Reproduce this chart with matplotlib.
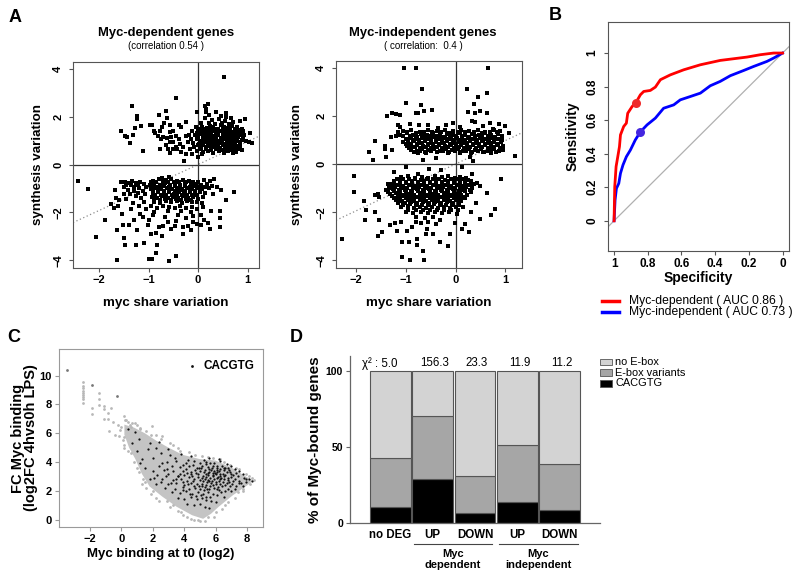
import numpy as np
import matplotlib
matplotlib.use('Agg')
import matplotlib.pyplot as plt
from matplotlib.lines import Line2D
from matplotlib.patches import Rectangle

plt.rcParams['font.family'] = ['Liberation Sans', 'DejaVu Sans']

# ---------------- DATA ----------------
# Panel A (left): Myc-dependent genes (myc share variation, synthesis variation)
dep_points = [
    (0.52, 3.67), (-0.45, 2.76), (-1.33, 2.46), (-0.64, 2.25), (-1.23, 2.04), (-1.23, 1.90), (-0.79, 2.07),
    (-0.62, 1.93), (-0.94, 1.65), (-0.98, 1.65), (-1.16, 1.60), (-1.27, 1.51), (-1.55, 1.38), (-1.48, 1.21),
    (-1.43, 1.13), (-1.31, 1.24), (-1.37, 0.89), (-1.12, 0.58), (-0.86, 1.32), (-0.76, 1.38), (-0.72, 1.56),
    (-0.69, 1.74), (-0.57, 1.65), (-0.38, 1.65), (-0.34, 1.56), (-0.25, 1.79), (-0.57, 1.35), (-0.51, 1.42),
    (-0.65, 0.82), (-0.61, 0.63), (-0.57, 0.93), (-0.28, 0.13), (-0.03, 2.21), (0.13, 2.46), (0.20, 2.53),
    (0.17, 2.32), (0.22, 2.07), (0.15, 2.18), (0.37, 2.21), (0.47, 2.01), (0.57, 2.15), (0.56, 1.97),
    (0.66, 1.93), (0.94, 1.88), (0.84, 1.83), (1.04, 1.32), (1.03, 0.93), (1.08, 0.90), (0.84, 0.72),
    (0.77, 0.51), (0.71, 0.63),
    (-0.45, 1.18), (-0.38, 1.07), (-0.37, 0.86), (-0.30, 0.72), (-0.34, 0.54), (-0.51, 0.93), (-0.44, 0.72),
    (-0.54, 1.14), (-0.62, 1.10), (-0.24, 1.21), (-0.20, 0.93), (-0.17, 0.63), (-0.13, 0.44), (-0.25, 0.44),
    (-0.42, 0.63), (-0.50, 0.63), (-0.57, 0.49), (-0.74, 1.07), (-0.71, 1.14), (-0.81, 1.21), (-0.88, 1.42),
    (-0.76, 0.65),
    (0.05, 1.72), (0.22, 1.75), (0.35, 1.68), (0.48, 1.74), (0.62, 1.70), (0.70, 1.78), (0.28, 1.85),
    (0.42, 1.90), (0.14, 1.95), (0.55, 1.82),
    (-0.05, 1.55), (0.08, 1.58), (0.18, 1.52), (0.31, 1.56), (0.40, 1.50), (0.52, 1.58), (0.60, 1.53),
    (0.68, 1.60), (0.78, 1.55), (0.88, 1.50), (0.25, 1.62), (0.46, 1.64),
    (-0.12, 1.42), (0.00, 1.38), (0.10, 1.44), (0.21, 1.36), (0.30, 1.42), (0.37, 1.35), (0.45, 1.41),
    (0.55, 1.38), (0.63, 1.44), (0.72, 1.36), (0.80, 1.42), (0.90, 1.38), (0.15, 1.30), (0.58, 1.30),
    (-0.18, 1.25), (-0.06, 1.22), (0.05, 1.27), (0.13, 1.20), (0.24, 1.26), (0.33, 1.19), (0.41, 1.24),
    (0.50, 1.18), (0.58, 1.25), (0.67, 1.20), (0.75, 1.27), (0.83, 1.22), (0.93, 1.25), (0.28, 1.12),
    (0.46, 1.10),
    (-0.15, 1.05), (-0.02, 1.08), (0.09, 1.02), (0.18, 1.06), (0.27, 0.99), (0.36, 1.04), (0.44, 0.98),
    (0.53, 1.05), (0.62, 0.99), (0.70, 1.06), (0.79, 1.00), (0.88, 1.04), (0.96, 0.98),
    (-0.10, 0.90), (0.02, 0.86), (0.12, 0.92), (0.22, 0.85), (0.32, 0.90), (0.40, 0.84), (0.49, 0.91),
    (0.57, 0.86), (0.66, 0.92), (0.74, 0.85), (0.85, 0.88),
    (-0.08, 0.74), (0.05, 0.70), (0.16, 0.75), (0.26, 0.69), (0.35, 0.73), (0.45, 0.67), (0.54, 0.74),
    (0.63, 0.70), (0.72, 0.75), (0.80, 0.66),
    (-0.02, 0.55), (0.10, 0.52), (0.21, 0.58), (0.31, 0.50), (0.42, 0.56), (0.52, 0.48), (0.61, 0.57),
    (0.70, 0.50), (0.88, 0.62), (0.00, 0.30), (0.08, 0.42),
    (0.02, 1.48), (0.14, 1.50), (0.26, 1.47), (0.35, 1.49), (0.50, 1.47), (0.65, 1.50), (0.74, 1.47),
    (0.85, 1.46), (-0.02, 1.32), (0.08, 1.34), (0.26, 1.33), (0.40, 1.31), (0.50, 1.34), (0.66, 1.32),
    (0.76, 1.34), (0.86, 1.31), (0.00, 1.15), (0.10, 1.13), (0.20, 1.16), (0.37, 1.13), (0.55, 1.12),
    (0.63, 1.16), (0.72, 1.13), (0.80, 1.16), (0.90, 1.13), (0.04, 0.97), (0.14, 0.96), (0.23, 0.97),
    (0.32, 0.96), (0.49, 0.97), (0.58, 0.95), (0.75, 0.96), (0.84, 0.96), (0.00, 0.80), (0.10, 0.81),
    (0.20, 0.79), (0.30, 0.81), (0.40, 0.78), (0.50, 0.80), (0.60, 0.79), (0.68, 0.81), (0.78, 0.78),
    (0.04, 0.63), (0.15, 0.64), (0.27, 0.62), (0.37, 0.63), (0.48, 0.61), (0.57, 0.64), (0.66, 0.62),
    (0.76, 0.60),
    # lower cluster
    (-2.42, -0.69), (-2.23, -1.03), (-1.87, -2.32), (-2.07, -3.04), (-1.64, -4.0), (-1.68, -1.06),
    (-1.64, -2.75), (-1.50, -3.07), (-1.47, -3.38), (-1.53, -2.06), (-1.70, -1.80), (-1.62, -1.74),
    (-1.60, -1.50), (-1.52, -2.51), (-1.39, -2.54), (-1.23, -2.75), (-1.26, -3.38), (-1.09, -3.26),
    (-0.99, -3.96), (-0.94, -3.96), (-0.84, -3.69), (-0.83, -3.38), (-0.73, -2.99), (-0.59, -4.03),
    (-0.45, -3.83), (0.20, -2.43), (0.25, -2.68), (0.44, -2.61), (0.44, -2.24), (0.44, -1.96),
    (0.27, -1.96), (0.57, -1.50), (0.73, -1.13),
    (-0.96, -2.88), (-1.01, -2.51), (-1.00, -2.30), (-0.92, -2.10), (-0.79, -2.60), (-0.71, -2.55),
    (-0.61, -2.41), (-0.47, -2.55), (-0.44, -2.35), (-0.31, -2.60), (-0.31, -2.88), (-0.20, -2.55),
    (-0.11, -2.40), (-0.03, -2.50), (0.05, -2.52), (-0.15, -2.75), (-0.85, -2.85), (-1.12, -2.20),
    (-0.55, -2.70), (-0.67, -2.20), (-0.40, -2.10), (-0.25, -2.25), (-0.10, -2.15), (0.05, -2.10),
    (0.12, -2.30), (-1.30, -2.30), (-1.18, -2.05), (-0.88, -2.00),
    (-1.55, -0.75), (-1.47, -0.72), (-1.40, -0.78), (-1.33, -0.70), (-1.25, -0.76), (-1.18, -0.72),
    (-1.10, -0.80), (-1.50, -0.95), (-1.42, -1.05), (-1.30, -0.92), (-1.20, -1.00), (-1.12, -1.10),
    (-1.05, -0.95), (-1.38, -1.25), (-1.25, -1.30), (-1.15, -1.40), (-1.08, -1.25), (-1.45, -1.45),
    (-1.32, -1.60), (-1.20, -1.75), (-1.10, -1.55), (-1.05, -1.85), (-1.35, -1.85), (-1.50, -1.25),
    (-1.75, -1.65), (-1.65, -1.40),
    (-0.92, -0.68), (-0.78, -0.62), (-0.65, -0.66), (-0.55, -0.60), (-0.42, -0.67), (-0.30, -0.63),
    (-0.18, -0.70), (-0.58, -0.52), (-0.72, -0.55), (0.12, -0.65), (0.25, -0.70), (0.32, -0.62),
    (-0.98, -0.85), (-0.88, -0.80), (-0.76, -0.86), (-0.66, -0.79), (-0.56, -0.84), (-0.46, -0.78),
    (-0.36, -0.85), (-0.26, -0.80), (-0.15, -0.86), (-0.05, -0.80), (0.05, -0.85), (0.18, -0.82),
    (0.28, -0.88),
    (-0.95, -1.02), (-0.85, -0.97), (-0.74, -1.03), (-0.63, -0.98), (-0.52, -1.04), (-0.42, -0.97),
    (-0.32, -1.03), (-0.22, -0.98), (-0.12, -1.04), (-0.02, -0.97), (0.08, -1.02), (0.22, -1.00),
    (0.38, -0.95), (0.47, -1.05),
    (-0.90, -1.18), (-0.80, -1.14), (-0.69, -1.20), (-0.58, -1.15), (-0.48, -1.21), (-0.38, -1.14),
    (-0.28, -1.20), (-0.17, -1.15), (-0.07, -1.22), (0.03, -1.16), (0.14, -1.20), (0.30, -1.25),
    (-0.93, -1.35), (-0.82, -1.40), (-0.72, -1.33), (-0.61, -1.38), (-0.50, -1.34), (-0.40, -1.40),
    (-0.30, -1.32), (-0.20, -1.38), (-0.10, -1.34), (0.00, -1.42), (0.10, -1.36),
    (-0.88, -1.55), (-0.76, -1.60), (-0.65, -1.52), (-0.54, -1.58), (-0.43, -1.54), (-0.33, -1.60),
    (-0.23, -1.52), (-0.12, -1.58), (-0.02, -1.55), (0.07, -1.62),
    (-0.95, -1.75), (-0.82, -1.80), (-0.70, -1.72), (-0.58, -1.78), (-0.47, -1.82), (-0.36, -1.74),
    (-0.24, -1.80), (-0.13, -1.76), (-0.03, -1.85), (0.10, -1.78), (-0.60, -1.95), (-0.35, -1.95),
    (-0.15, -1.98),
    (-0.95, -0.74), (-0.84, -0.73), (-0.70, -0.75), (-0.60, -0.72), (-0.48, -0.74), (-0.38, -0.73),
    (-0.24, -0.75), (-0.10, -0.73), (0.00, -0.72), (-1.45, -0.84), (-1.36, -0.86), (-1.22, -0.86),
    (-0.90, -0.92), (-0.80, -0.93), (-0.68, -0.91), (-0.58, -0.93), (-0.47, -0.91), (-0.37, -0.92),
    (-0.27, -0.90), (-0.17, -0.93), (-0.07, -0.91), (0.03, -0.93), (0.14, -0.92),
    (-0.92, -1.10), (-0.80, -1.08), (-0.69, -1.11), (-0.58, -1.09), (-0.47, -1.11), (-0.37, -1.08),
    (-0.27, -1.11), (-0.17, -1.08), (-0.07, -1.10), (0.04, -1.08), (-1.30, -1.10), (-1.22, -1.17),
    (-0.86, -1.27), (-0.75, -1.26), (-0.64, -1.28), (-0.53, -1.27), (-0.43, -1.28), (-0.33, -1.26),
    (-0.23, -1.28), (-0.13, -1.26), (-0.03, -1.29),
    (-0.88, -1.46), (-0.77, -1.47), (-0.66, -1.45), (-0.55, -1.47), (-0.45, -1.46), (-0.35, -1.48),
    (-0.25, -1.45), (-0.15, -1.47),
]

# Panel A (right): Myc-independent genes
indep_points = [
    (-1.03, 4.0), (-0.80, 4.0), (0.66, 4.0), (-0.68, 3.10), (0.23, 3.12), (0.63, 2.96), (0.46, 2.78),
    (0.37, 2.50), (-1.00, 2.53), (-0.70, 2.46), (-0.80, 2.11), (-0.76, 2.10), (-0.63, 2.22), (-0.48, 2.25),
    (-1.38, 2.00), (-1.29, 2.11), (-1.21, 2.06), (-1.11, 2.04), (0.25, 2.18), (0.40, 2.11), (0.49, 2.19),
    (0.64, 2.11), (-0.91, 1.67), (-0.74, 1.64), (-0.56, 1.63), (-1.17, 1.62), (-1.11, 1.53), (-1.15, 1.32),
    (-1.30, 1.14), (-1.21, 1.18), (-1.62, 0.97), (-1.42, 0.76), (-1.42, 0.63), (-1.75, 0.51), (-1.66, 0.18),
    (-1.40, 0.30), (-1.29, 0.58), (-0.65, 0.18), (-0.40, 0.25), (0.34, 1.78), (0.40, 1.74), (0.69, 1.71),
    (0.88, 1.67), (1.00, 1.60), (1.08, 1.28), (1.19, 0.32), (0.95, 0.75), (0.91, 1.05), (0.95, 0.58),
    (0.36, 0.11), (0.30, 0.30), (-0.20, 1.62), (-0.05, 1.72), (0.10, 1.55), (0.55, 1.60), (0.75, 1.45),
    (-0.35, 1.50),
    (-1.05, 1.38), (-0.90, 1.42), (-0.72, 1.35), (-0.55, 1.40), (-0.38, 1.36), (-0.22, 1.42), (-0.05, 1.38),
    (0.12, 1.43), (0.28, 1.36), (0.45, 1.41), (0.60, 1.35), (0.78, 1.42), (0.90, 1.37),
    (-1.12, 1.22), (-0.98, 1.27), (-0.85, 1.20), (-0.70, 1.25), (-0.58, 1.21), (-0.45, 1.27), (-0.32, 1.20),
    (-0.18, 1.26), (-0.05, 1.21), (0.08, 1.27), (0.20, 1.22), (0.33, 1.26), (0.47, 1.20), (0.60, 1.27),
    (0.72, 1.21), (0.85, 1.25),
    (-1.00, 1.06), (-0.90, 1.10), (-0.80, 1.04), (-0.68, 1.09), (-0.56, 1.05), (-0.45, 1.11), (-0.34, 1.04),
    (-0.22, 1.09), (-0.10, 1.05), (0.02, 1.10), (0.14, 1.04), (0.26, 1.09), (0.38, 1.05), (0.50, 1.10),
    (0.62, 1.04), (0.74, 1.09), (0.88, 1.05),
    (-1.05, 0.92), (-0.95, 0.88), (-0.84, 0.94), (-0.73, 0.89), (-0.62, 0.95), (-0.50, 0.88), (-0.40, 0.93),
    (-0.28, 0.89), (-0.17, 0.95), (-0.05, 0.88), (0.06, 0.93), (0.18, 0.88), (0.30, 0.94), (0.42, 0.89),
    (0.54, 0.95), (0.66, 0.88), (0.78, 0.93), (0.92, 0.90),
    (-0.98, 0.76), (-0.88, 0.72), (-0.77, 0.78), (-0.66, 0.73), (-0.55, 0.78), (-0.44, 0.72), (-0.33, 0.77),
    (-0.22, 0.73), (-0.10, 0.79), (0.01, 0.72), (0.12, 0.77), (0.24, 0.72), (0.36, 0.78), (0.48, 0.73),
    (0.60, 0.77), (0.72, 0.72), (0.84, 0.78),
    (-0.90, 0.60), (-0.78, 0.56), (-0.67, 0.62), (-0.55, 0.57), (-0.43, 0.61), (-0.32, 0.55), (-0.20, 0.62),
    (-0.08, 0.58), (0.05, 0.61), (0.16, 0.55), (0.28, 0.62), (0.40, 0.57), (0.52, 0.61), (0.65, 0.56),
    (0.78, 0.62), (0.88, 0.55),
    (-0.75, 0.47), (-0.60, 0.45), (-0.38, 0.48), (-0.15, 0.44), (0.10, 0.46), (0.32, 0.45), (0.55, 0.48),
    (0.72, 0.44),
    (-0.98, 1.33), (-0.80, 1.30), (-0.63, 1.34), (-0.47, 1.31), (-0.30, 1.33), (-0.13, 1.30), (0.04, 1.34),
    (0.20, 1.31), (0.37, 1.33), (0.53, 1.30), (0.69, 1.34), (0.84, 1.31),
    (-1.06, 1.15), (-0.92, 1.17), (-0.77, 1.14), (-0.63, 1.18), (-0.51, 1.15), (-0.38, 1.17), (-0.25, 1.14),
    (-0.12, 1.18), (0.01, 1.15), (0.14, 1.17), (0.27, 1.14), (0.40, 1.18), (0.54, 1.15), (0.66, 1.17),
    (0.79, 1.14), (0.93, 1.16),
    (-0.95, 0.99), (-0.85, 1.01), (-0.74, 0.98), (-0.62, 1.02), (-0.50, 0.99), (-0.39, 1.01), (-0.28, 0.98),
    (-0.16, 1.02), (-0.04, 0.99), (0.08, 1.01), (0.20, 0.98), (0.32, 1.02), (0.44, 0.99), (0.56, 1.01),
    (0.68, 0.98), (0.80, 1.02), (0.94, 0.99),
    (-1.00, 0.83), (-0.89, 0.85), (-0.78, 0.82), (-0.67, 0.86), (-0.56, 0.83), (-0.45, 0.85), (-0.34, 0.82),
    (-0.23, 0.86), (-0.11, 0.83), (0.00, 0.85), (0.12, 0.82), (0.24, 0.86), (0.36, 0.83), (0.48, 0.85),
    (0.60, 0.82), (0.72, 0.86), (0.85, 0.83),
    (-0.93, 0.67), (-0.82, 0.69), (-0.71, 0.66), (-0.60, 0.70), (-0.49, 0.67), (-0.38, 0.69), (-0.27, 0.66),
    (-0.16, 0.70), (-0.04, 0.67), (0.07, 0.69), (0.18, 0.66), (0.30, 0.70), (0.42, 0.67), (0.54, 0.69),
    (0.66, 0.66), (0.78, 0.70), (0.90, 0.67),
    (-0.84, 0.52), (-0.72, 0.54), (-0.61, 0.51), (-0.49, 0.53), (-0.37, 0.52), (-0.26, 0.54), (-0.14, 0.51),
    (-0.02, 0.53), (0.10, 0.52), (0.22, 0.54), (0.34, 0.51), (0.46, 0.53), (0.58, 0.52), (0.70, 0.54),
    (0.82, 0.51),
    # lower cluster
    (-2.04, -0.51), (-2.04, -1.15), (-1.85, -1.53), (-1.80, -1.90), (-1.82, -2.32), (-2.29, -3.10),
    (-1.56, -3.01), (-1.49, -2.82), (-1.55, -2.32), (-1.62, -2.01), (-1.62, -1.28), (-1.56, -1.24),
    (-1.54, -1.35), (-1.25, -0.35), (-1.33, -0.81), (-1.35, -1.00), (-0.99, -0.11), (-0.53, -0.21),
    (-0.30, -0.24), (0.13, -0.11), (0.34, -0.42), (0.91, -0.63), (0.64, -1.22), (0.49, -0.90),
    (0.49, -2.29), (0.79, -1.85), (0.71, -2.11), (0.41, -1.63), (0.31, -1.98), (0.20, -2.48),
    (0.28, -2.81), (0.14, -2.71), (-0.01, -2.43), (-0.11, -2.92), (-0.16, -3.40), (-0.31, -3.26),
    (-0.40, -2.50), (-0.57, -2.71), (-0.60, -2.92), (-0.46, -2.92), (-0.31, -2.33), (-0.66, -3.61),
    (-0.63, -4.0), (-0.92, -4.0), (-1.07, -3.86), (-1.07, -3.26), (-0.93, -3.26), (-0.78, -3.13),
    (-0.78, -3.36), (-1.19, -2.80), (-1.33, -2.54), (-1.23, -2.47), (-1.10, -2.42), (-0.97, -2.80),
    (-0.88, -2.61), (-0.80, -2.40),
    (-1.10, -0.55), (-0.95, -0.50), (-0.82, -0.58), (-0.68, -0.52), (-0.55, -0.57), (-0.42, -0.50),
    (-0.28, -0.56), (-0.15, -0.51), (-0.02, -0.57), (0.10, -0.52), (0.22, -0.60), (-0.75, -0.42),
    (-1.25, -0.72), (-1.12, -0.68), (-1.00, -0.74), (-0.88, -0.70), (-0.76, -0.75), (-0.64, -0.69),
    (-0.52, -0.74), (-0.40, -0.68), (-0.28, -0.74), (-0.16, -0.69), (-0.04, -0.75), (0.08, -0.69),
    (0.20, -0.74), (0.32, -0.70),
    (-1.30, -0.92), (-1.18, -0.88), (-1.06, -0.93), (-0.94, -0.87), (-0.82, -0.92), (-0.70, -0.88),
    (-0.58, -0.93), (-0.46, -0.87), (-0.34, -0.92), (-0.22, -0.88), (-0.10, -0.93), (0.02, -0.87),
    (0.14, -0.92), (0.26, -0.88), (0.38, -0.85),
    (-1.40, -1.08), (-1.26, -1.05), (-1.14, -1.10), (-1.02, -1.06), (-0.90, -1.11), (-0.78, -1.05),
    (-0.66, -1.10), (-0.54, -1.05), (-0.42, -1.11), (-0.30, -1.06), (-0.18, -1.10), (-0.06, -1.05),
    (0.06, -1.11), (0.18, -1.06), (0.30, -1.10),
    (-1.32, -1.25), (-1.20, -1.22), (-1.08, -1.28), (-0.96, -1.23), (-0.84, -1.27), (-0.72, -1.22),
    (-0.60, -1.28), (-0.48, -1.23), (-0.36, -1.27), (-0.24, -1.22), (-0.12, -1.28), (0.00, -1.23),
    (0.12, -1.27), (0.24, -1.30),
    (-1.25, -1.42), (-1.12, -1.45), (-1.00, -1.40), (-0.88, -1.44), (-0.76, -1.39), (-0.64, -1.45),
    (-0.52, -1.40), (-0.40, -1.44), (-0.28, -1.39), (-0.16, -1.45), (-0.04, -1.40), (0.08, -1.44),
    (0.20, -1.42),
    (-1.15, -1.60), (-1.02, -1.63), (-0.90, -1.58), (-0.78, -1.62), (-0.66, -1.57), (-0.54, -1.63),
    (-0.42, -1.58), (-0.30, -1.62), (-0.18, -1.57), (-0.06, -1.63), (0.06, -1.60),
    (-1.10, -1.80), (-0.96, -1.76), (-0.84, -1.82), (-0.72, -1.77), (-0.60, -1.83), (-0.48, -1.78),
    (-0.36, -1.82), (-0.24, -1.77), (-0.12, -1.83), (0.00, -1.78), (0.15, -1.80),
    (-1.00, -2.00), (-0.85, -2.05), (-0.70, -1.98), (-0.56, -2.04), (-0.42, -1.99), (-0.28, -2.05),
    (-0.14, -2.00), (0.02, -2.06), (-0.80, -2.22), (-0.62, -2.25), (-0.45, -2.20), (-0.70, -2.45),
    (-0.55, -2.40),
    (-1.18, -0.63), (-1.05, -0.61), (-0.94, -0.64), (-0.82, -0.62), (-0.70, -0.65), (-0.58, -0.61),
    (-0.46, -0.64), (-0.34, -0.62), (-0.22, -0.65), (-0.10, -0.61), (0.02, -0.64), (0.14, -0.62),
    (0.26, -0.65),
    (-1.36, -0.81), (-1.24, -0.79), (-1.12, -0.82), (-1.00, -0.80), (-0.88, -0.83), (-0.76, -0.79),
    (-0.64, -0.82), (-0.52, -0.80), (-0.40, -0.83), (-0.28, -0.79), (-0.16, -0.82), (-0.04, -0.80),
    (0.08, -0.83), (0.20, -0.79), (0.32, -0.82), (0.44, -0.80),
    (-1.34, -0.99), (-1.22, -0.97), (-1.10, -1.00), (-0.98, -0.98), (-0.86, -1.01), (-0.74, -0.97),
    (-0.62, -1.00), (-0.50, -0.98), (-0.38, -1.01), (-0.26, -0.97), (-0.14, -1.00), (-0.02, -0.98),
    (0.10, -1.01), (0.22, -0.97), (0.34, -1.00),
    (-1.36, -1.16), (-1.24, -1.14), (-1.12, -1.17), (-1.00, -1.15), (-0.88, -1.18), (-0.76, -1.14),
    (-0.64, -1.17), (-0.52, -1.15), (-0.40, -1.18), (-0.28, -1.14), (-0.16, -1.17), (-0.04, -1.15),
    (0.08, -1.18), (0.20, -1.14), (0.32, -1.17),
    (-1.28, -1.33), (-1.16, -1.31), (-1.04, -1.34), (-0.92, -1.32), (-0.80, -1.35), (-0.68, -1.31),
    (-0.56, -1.34), (-0.44, -1.32), (-0.32, -1.35), (-0.20, -1.31), (-0.08, -1.34), (0.04, -1.32),
    (0.16, -1.35),
    (-1.20, -1.51), (-1.08, -1.53), (-0.96, -1.50), (-0.84, -1.54), (-0.72, -1.51), (-0.60, -1.53),
    (-0.48, -1.50), (-0.36, -1.54), (-0.24, -1.51), (-0.12, -1.53), (0.00, -1.50), (0.12, -1.52),
    (-1.05, -1.70), (-0.92, -1.68), (-0.80, -1.71), (-0.68, -1.69), (-0.56, -1.72), (-0.44, -1.68),
    (-0.32, -1.71), (-0.20, -1.69), (-0.08, -1.72), (0.06, -1.70),
    (-0.95, -1.90), (-0.80, -1.92), (-0.66, -1.89), (-0.52, -1.93), (-0.38, -1.90), (-0.24, -1.92),
    (-0.10, -1.89), (0.05, -1.92),
]
dep_slope = 0.96
indep_slope = 0.97

# Panel B: ROC curves (specificity, sensitivity)
spec_dep = [1.0, 0.996, 0.988, 0.978, 0.968, 0.962, 0.943, 0.927, 0.919, 0.893, 0.870, 0.844, 0.824,
            0.785, 0.755, 0.725, 0.666, 0.587, 0.488, 0.370, 0.211, 0.132, 0.053, 0.0]
sens_dep = [0.0, 0.203, 0.323, 0.382, 0.442, 0.512, 0.562, 0.582, 0.641, 0.681, 0.705, 0.751, 0.771,
            0.777, 0.797, 0.841, 0.870, 0.900, 0.930, 0.956, 0.976, 0.990, 1.0, 1.0]
spec_ind = [1.0, 0.994, 0.986, 0.972, 0.962, 0.947, 0.927, 0.903, 0.874, 0.844, 0.804, 0.755, 0.706,
            0.646, 0.607, 0.547, 0.488, 0.429, 0.370, 0.310, 0.231, 0.172, 0.093, 0.053, 0.0]
sens_ind = [0.0, 0.124, 0.193, 0.223, 0.283, 0.333, 0.382, 0.422, 0.482, 0.530, 0.572, 0.612, 0.671,
            0.691, 0.721, 0.741, 0.761, 0.805, 0.831, 0.865, 0.896, 0.920, 0.950, 0.970, 1.0]
best_dep = (0.870, 0.705)
best_ind = (0.844, 0.530)
roc_labels = ['Myc-dependent ( AUC 0.86 )', 'Myc-independent ( AUC 0.73 )']

# Panel C: Myc binding at t0 vs FC Myc binding
c_cloud = [(0.2, 6.6), (0.8, 6.4), (1.5, 6.0), (2.2, 5.5), (3.0, 5.0), (3.9, 4.5), (5.0, 4.2), (6.0, 4.1),
           (7.1, 3.55), (7.9, 3.0), (8.4, 2.7), (7.9, 2.3), (7.1, 1.7), (6.2, 0.9), (5.7, 0.4), (5.2, 0.05),
           (4.5, 0.3), (3.5, 0.9), (2.6, 1.6), (1.8, 2.3), (1.3, 3.2), (0.9, 4.2), (0.5, 5.0), (0.2, 5.9)]
c_gray = [(-2.42, 9.54), (-2.42, 9.30), (-2.42, 9.12), (-2.42, 8.96), (-2.42, 8.82), (-2.42, 8.66),
          (-2.42, 8.52), (-2.42, 8.36), (-2.42, 8.08), (-1.41, 8.78), (-1.41, 8.36), (-1.41, 7.96),
          (-1.85, 7.78), (-1.85, 7.31), (-1.08, 7.89), (-1.08, 7.68), (-0.62, 7.78), (-0.83, 7.38),
          (-1.08, 6.96), (-0.83, 6.99), (0.18, 7.19), (0.22, 6.91), (0.43, 6.75), (0.53, 6.56),
          (-0.51, 6.75), (-0.20, 6.56), (0.01, 6.45), (0.33, 6.33), (0.86, 6.68), (1.00, 6.56),
          (-0.41, 5.87), (-0.14, 5.82), (0.18, 5.76), (0.18, 5.17), (0.18, 4.99), (-0.77, 6.15),
          (1.98, 6.50), (0.65, 6.45), (1.17, 6.33), (1.60, 6.15), (2.23, 5.87), (2.60, 5.80), (3.10, 5.30),
          (3.60, 5.00), (4.30, 4.70), (5.10, 4.40), (5.80, 4.30), (6.50, 4.00), (7.30, 3.60), (7.90, 3.20),
          (8.30, 2.90), (4.60, 0.00), (4.90, -0.05), (5.30, -0.10), (5.90, 0.20), (6.40, 0.70), (2.00, 2.00),
          (2.90, 1.30), (3.30, 1.00), (1.40, 2.80), (1.00, 3.60), (0.60, 4.60), (6.80, 1.20), (7.40, 1.90),
          (7.70, 2.10), (1.60, 2.20), (3.80, 0.50), (4.20, 0.20),
          (0.3, 6.9), (0.7, 6.7), (1.2, 6.4), (1.9, 5.9), (2.5, 5.6), (3.3, 5.2), (3.7, 4.8), (4.7, 4.5),
          (5.5, 4.35), (6.3, 4.2), (6.9, 3.8), (7.5, 3.5), (8.1, 3.0), (8.45, 2.75), (8.2, 2.45), (7.7, 1.95),
          (7.2, 1.5), (6.6, 1.0), (6.0, 0.55), (5.5, 0.2), (5.0, -0.1), (4.4, 0.05), (3.9, 0.3), (3.1, 0.9),
          (2.4, 1.3), (1.9, 1.8), (1.5, 2.6), (1.1, 3.3), (0.8, 4.0), (0.4, 4.8), (0.1, 5.5), (-0.1, 6.2),
          (1.3, 2.5), (2.2, 1.5), (3.6, 0.6)]
c_dark = [(-3.43, 10.42), (-1.85, 9.35), (-0.24, 8.59)]
c_black = [
    (3.1, 4.5), (4.4, 4.4), (5.6, 4.3), (6.2, 4.2), (2.5, 4.6), (3.8, 4.55),
    (2.9, 4.0), (3.5, 4.1), (4.1, 3.95), (4.6, 4.05), (5.0, 3.9), (5.4, 4.0), (5.9, 3.95), (6.3, 4.05),
    (6.7, 3.85), (7.0, 3.7),
    (2.4, 3.7), (3.2, 3.75), (3.7, 3.65), (4.3, 3.7), (4.8, 3.6), (5.1, 3.75), (5.5, 3.65), (5.8, 3.7),
    (6.1, 3.6), (6.4, 3.75), (6.8, 3.55), (7.2, 3.5), (7.5, 3.4),
    (2.0, 3.4), (2.7, 3.45), (3.3, 3.35), (3.9, 3.4), (4.4, 3.3), (4.7, 3.45), (5.0, 3.35), (5.3, 3.45),
    (5.6, 3.3), (5.9, 3.4), (6.2, 3.35), (6.5, 3.45), (6.9, 3.3), (7.3, 3.25), (7.7, 3.15), (4.1, 3.5),
    (5.75, 3.55),
    (2.3, 3.1), (3.0, 3.15), (3.6, 3.05), (4.0, 3.1), (4.5, 3.0), (4.9, 3.15), (5.2, 3.05), (5.5, 3.1),
    (5.8, 3.0), (6.0, 3.15), (6.3, 3.05), (6.6, 3.1), (7.0, 2.95), (7.4, 3.0), (7.8, 2.9), (8.1, 2.8),
    (5.35, 3.2), (6.15, 2.95),
    (1.8, 2.8), (2.6, 2.85), (3.3, 2.75), (3.8, 2.8), (4.2, 2.7), (4.6, 2.85), (5.0, 2.75), (5.3, 2.85),
    (5.6, 2.7), (5.9, 2.8), (6.2, 2.7), (6.5, 2.85), (6.8, 2.75), (7.1, 2.65), (7.5, 2.7), (7.9, 2.6),
    (8.3, 2.7), (5.45, 2.6), (6.05, 2.9),
    (2.2, 2.5), (3.0, 2.45), (3.5, 2.55), (4.0, 2.4), (4.4, 2.55), (4.8, 2.45), (5.1, 2.5), (5.4, 2.4),
    (5.7, 2.55), (6.0, 2.45), (6.3, 2.5), (6.6, 2.4), (6.9, 2.35), (7.3, 2.3), (7.7, 2.35),
    (2.8, 2.2), (3.4, 2.15), (3.9, 2.25), (4.3, 2.1), (4.7, 2.2), (5.0, 2.15), (5.3, 2.25), (5.6, 2.1),
    (5.9, 2.2), (6.2, 2.05), (6.6, 2.0), (7.0, 1.95),
    (3.2, 1.9), (3.7, 1.85), (4.1, 1.95), (4.5, 1.8), (4.9, 1.9), (5.2, 1.8), (5.5, 1.9), (5.8, 1.75),
    (6.1, 1.7), (6.5, 1.6),
    (3.6, 1.5), (4.0, 1.45), (4.4, 1.55), (4.8, 1.4), (5.1, 1.5), (5.4, 1.35), (5.7, 1.3), (6.0, 1.2),
    (4.2, 1.1), (4.6, 1.0), (5.0, 1.05), (5.3, 0.9), (5.6, 0.8),
    (1.0, 4.8), (1.3, 4.2), (1.5, 3.6), (1.7, 4.9), (2.0, 4.3), (2.2, 5.0), (0.7, 5.3), (1.1, 5.6),
    (2.6, 3.9), (2.9, 3.5), (3.4, 4.3), (3.6, 3.0), (2.1, 2.9), (1.2, 3.9), (0.4, 6.3), (0.9, 6.1),
    (1.8, 5.3), (2.4, 5.4), (3.0, 4.9),
    (5.05, 3.55), (5.25, 3.3), (5.5, 3.25), (5.7, 3.45), (5.95, 3.25), (6.25, 3.5), (6.45, 3.2), (6.7, 3.3),
    (5.15, 2.9), (5.4, 2.95), (5.65, 2.9), (5.85, 3.1), (6.1, 3.3), (6.35, 2.9), (6.55, 3.0), (6.75, 2.9),
    (5.2, 2.65), (5.5, 2.75), (5.75, 2.65), (6.0, 2.6), (6.25, 2.8), (6.45, 2.6), (6.7, 2.55), (4.75, 3.25),
    (4.55, 2.65), (4.85, 2.95), (4.3, 2.95), (4.15, 3.25),
    (4.55, 3.8), (4.95, 3.55), (5.35, 3.85), (5.65, 3.95), (6.05, 3.75), (6.55, 3.6), (6.95, 3.15),
    (7.25, 2.85), (7.6, 2.55), (7.9, 2.85), (4.45, 3.15), (4.65, 2.35), (4.95, 2.3), (5.15, 2.35),
    (5.45, 2.15), (5.85, 2.4), (6.15, 2.25), (6.4, 2.35), (6.85, 2.6), (7.2, 2.1), (4.25, 2.45),
    (3.95, 2.6), (3.75, 3.2), (3.45, 2.85), (3.15, 2.55), (2.85, 3.0), (2.55, 2.6), (3.9, 3.8),
    (4.25, 4.15), (5.25, 4.15), (5.55, 3.5), (5.8, 3.25), (6.05, 3.45), (6.3, 3.2), (6.6, 3.6),
    (6.85, 3.45), (7.1, 3.1), (5.25, 2.05), (5.65, 2.3), (6.05, 2.1), (6.35, 1.9), (4.75, 1.65),
    (5.05, 1.7), (5.35, 1.6), (5.65, 1.55), (4.35, 1.75), (3.95, 2.05), (6.8, 2.15), (7.45, 2.55),
    (7.05, 2.45),
]

# Panel D: % of Myc-bound genes
d_groups = ['no DEG', 'UP', 'DOWN', 'UP', 'DOWN']
d_chi = ['5.0', '156.3', '23.3', '11.9', '11.2']
d_cacgtg = [10.5, 29.0, 6.6, 14.0, 8.8]
d_variants = [32.5, 41.4, 24.4, 37.6, 30.2]
d_noebox = [57.0, 29.6, 69.0, 48.4, 61.0]
d_legend = ['no E-box', 'E-box variants', 'CACGTG']
d_colors = ['#d3d3d3', '#a6a6a6', '#000000']

# ---------------- FIGURE ----------------
W, H = 800, 582
fig = plt.figure(figsize=(W / 100, H / 100), dpi=100)


def add_ax(l, t, r, b):
    return fig.add_axes([l / W, 1 - b / H, (r - l) / W, (b - t) / H])


def fx(px):
    return px / W


def fy(py):
    return 1 - py / H


FR = '#555555'


def style_frame(ax, color=FR, lw=0.8):
    for s in ax.spines.values():
        s.set_color(color)
        s.set_linewidth(lw)
    ax.tick_params(direction='out', length=3, width=0.8, color=color, pad=2)


def scatter_panel(ax, pts, slope, xlim, ylabel_x):
    xs = [p[0] for p in pts]
    ys = [p[1] for p in pts]
    ax.axline((0, 0), slope=slope, color='#8c8c8c', lw=0.9, ls=(0, (1, 2)), zorder=1)
    ax.axhline(0, color='#333333', lw=0.9, zorder=1)
    ax.axvline(0, color='#333333', lw=0.9, zorder=1)
    ax.scatter(xs, ys, s=8, marker='s', c='black', linewidths=0, zorder=3)
    ax.set_xlim(*xlim)
    ax.set_ylim(-4.32, 4.28)
    ax.set_xticks([-2, -1, 0, 1])
    ax.set_yticks([-4, -2, 0, 2, 4])
    style_frame(ax)
    ax.tick_params(axis='y', labelrotation=90, pad=4)
    for lab in ax.get_xticklabels() + ax.get_yticklabels():
        lab.set_fontweight('bold')
        lab.set_fontsize(8)
    for lab in ax.get_yticklabels():
        lab.set_va('center')
    ax.set_xlabel('myc share variation', fontsize=9.6, fontweight='bold', va='center')
    ax.xaxis.set_label_coords(0.5, -0.17)
    ax.set_ylabel('synthesis variation', fontsize=9.6, fontweight='bold', va='center')
    ax.yaxis.set_label_coords(ylabel_x, 0.5)


axA1 = add_ax(73, 62, 259, 268)
scatter_panel(axA1, dep_points, dep_slope, (-2.525, 1.23), -0.187)
axA2 = add_ax(336, 61, 522, 268)
scatter_panel(axA2, indep_points, indep_slope, (-2.41, 1.34), -0.211)

fig.text(fx(166), fy(33), 'Myc-dependent genes', ha='center', va='center', fontsize=9.4, fontweight='bold')
fig.text(fx(166), fy(46), '(correlation 0.54 )', ha='center', va='center', fontsize=7)
fig.text(fx(423), fy(33), 'Myc-independent genes', ha='center', va='center', fontsize=9.4, fontweight='bold')
fig.text(fx(423), fy(46), '( correlation:  0.4 )', ha='center', va='center', fontsize=7)

# Panel B
axB = add_ax(608, 22, 789, 251)
axB.axline((1, 0), (0, 1), color='#b0b0b0', lw=0.9, zorder=1)
axB.plot(spec_ind, sens_ind, color='#0000ff', lw=2, zorder=2)
axB.plot(spec_dep, sens_dep, color='#ff0000', lw=2, zorder=3)
axB.plot([best_dep[0]], [best_dep[1]], 'o', color='#ee2b2b', ms=6.5, mec='none', zorder=4)
axB.plot([best_ind[0]], [best_ind[1]], 'o', color='#4426e0', ms=6.5, mec='none', zorder=4)
axB.set_xlim(1.036, -0.038)
axB.set_ylim(-0.18, 1.185)
axB.set_xticks([1, 0.8, 0.6, 0.4, 0.2, 0])
axB.set_xticklabels(['1', '0.8', '0.6', '0.4', '0.2', '0'])
axB.set_yticks([0, 0.2, 0.4, 0.6, 0.8, 1])
axB.set_yticklabels(['0', '0.2', '0.4', '0.6', '0.8', '1'])
style_frame(axB)
axB.tick_params(axis='y', labelrotation=90, pad=4)
for lab in axB.get_xticklabels() + axB.get_yticklabels():
    lab.set_fontweight('bold')
    lab.set_fontsize(8.5)
for lab in axB.get_yticklabels():
    lab.set_va('center')
axB.set_xlabel('Specificity', fontsize=10, fontweight='bold', va='center')
axB.xaxis.set_label_coords(0.5, -0.119)
axB.set_ylabel('Sensitivity', fontsize=10, fontweight='bold', va='center')
axB.yaxis.set_label_coords(-0.197, 0.5)

for i, (lab, col) in enumerate(zip(roc_labels, ['#ff0000', '#0000ff'])):
    yy = 301 + i * 10.7
    fig.add_artist(Line2D([fx(602), fx(619)], [fy(yy), fy(yy)], color=col, lw=2.5,
                          transform=fig.transFigure))
    fig.text(fx(629), fy(yy), lab, ha='left', va='center', fontsize=8.7)

# Panel C
axC = add_ax(59, 349, 263, 527)
axC.fill([p[0] for p in c_cloud], [p[1] for p in c_cloud], color='#c4c4c4', lw=0, zorder=1)
axC.scatter([p[0] for p in c_gray], [p[1] for p in c_gray], s=4, c='#b8b8b8', linewidths=0, zorder=2)
axC.scatter([p[0] for p in c_dark], [p[1] for p in c_dark], s=4, c='#777777', linewidths=0, zorder=2)
axC.scatter([p[0] for p in c_black], [p[1] for p in c_black], s=2.6, c='#111111', linewidths=0, zorder=3)
axC.set_xlim(-3.95, 9.0)
axC.set_ylim(-0.52, 11.86)
axC.set_xticks([-2, 0, 2, 4, 6, 8])
axC.set_yticks([0, 2, 4, 6, 8, 10])
style_frame(axC, color='#9a9a9a')
axC.tick_params(pad=2)
for lab in axC.get_xticklabels() + axC.get_yticklabels():
    lab.set_fontweight('bold')
    lab.set_fontsize(8)
axC.set_xlabel('Myc binding at t0 (log2)', fontsize=9.5, fontweight='bold', va='center')
axC.xaxis.set_label_coords(0.5, -0.15)
axC.set_ylabel('FC Myc binding\n(log2FC 4hvs0h LPS)', fontsize=10.5, fontweight='bold', va='center',
               linespacing=0.9)
axC.yaxis.set_label_coords(-0.17, 0.5)
axC.scatter([0.65], [0.906], s=4, c='#111111', transform=axC.transAxes, linewidths=0)
axC.text(0.71, 0.906, 'CACGTG', transform=axC.transAxes, ha='left', va='center', fontsize=8.5,
         fontweight='bold')

# Panel D
axD = add_ax(350, 356, 600, 523)
xpos = np.arange(len(d_groups)) * 1.04
bottom = np.zeros(len(d_groups))
for vals, col in zip([d_cacgtg, d_variants, d_noebox], d_colors[::-1]):
    axD.bar(xpos, vals, width=1.0, bottom=bottom, color=col, edgecolor='#555555', linewidth=0.8)
    bottom = bottom + np.array(vals)
axD.set_xlim(-0.99, 5.15)
axD.set_ylim(0, 109.9)
for s in ['top', 'right']:
    axD.spines[s].set_visible(False)
for s in ['left', 'bottom']:
    axD.spines[s].set_color('#666666')
    axD.spines[s].set_linewidth(0.9)
axD.set_yticks([0, 50, 100])
axD.tick_params(axis='y', direction='out', length=3, width=0.8, color='#666666', pad=2)
axD.set_xticks(xpos)
axD.set_xticklabels(d_groups)
axD.tick_params(axis='x', length=0, pad=4)
for lab in axD.get_xticklabels():
    lab.set_fontweight('bold')
    lab.set_fontsize(8.3)
for lab in axD.get_yticklabels():
    lab.set_fontweight('bold')
    lab.set_fontsize(7.5)
axD.set_ylabel('% of Myc-bound genes', fontsize=11, fontweight='bold', va='center')
axD.yaxis.set_label_coords(-0.14, 0.5)
for i, t in enumerate(d_chi):
    if i == 0:
        axD.text(xpos[i] - 0.25, 105, '\u03c7\u00b2 : ' + t, ha='center', va='center', fontsize=8.3)
    else:
        axD.text(xpos[i] + 0.05, 105, t, ha='center', va='center', fontsize=8.3)
tr = axD.get_xaxis_transform()
for (a, b), name in [((0.58, 2.5), 'Myc\ndependent'), ((2.67, 4.61), 'Myc\nindependent')]:
    axD.plot([a, b], [-0.128, -0.128], color='#444444', lw=0.8, transform=tr, clip_on=False)
    axD.text((a + b) / 2, -0.22, name, transform=tr, ha='center', va='center', fontsize=8,
             fontweight='bold', linespacing=1.15)
for i, (lab, col) in enumerate(zip(d_legend, d_colors)):
    yy = [361.8, 372.5, 383.2][i]
    fig.add_artist(Rectangle((fx(600), fy(yy + 3.3)), 12 / W, 6.6 / H, facecolor=col, edgecolor='#555555',
                             lw=0.6, transform=fig.transFigure))
    fig.text(fx(615), fy(yy), lab, ha='left', va='center', fontsize=7.9)

# Panel letters
for letter, (px, py) in zip('ABCD', [(15, 17), (555, 16), (14, 337), (296, 337)]):
    fig.text(fx(px), fy(py), letter, ha='center', va='center', fontsize=13, fontweight='bold')

fig.savefig('out.png', dpi=100)
